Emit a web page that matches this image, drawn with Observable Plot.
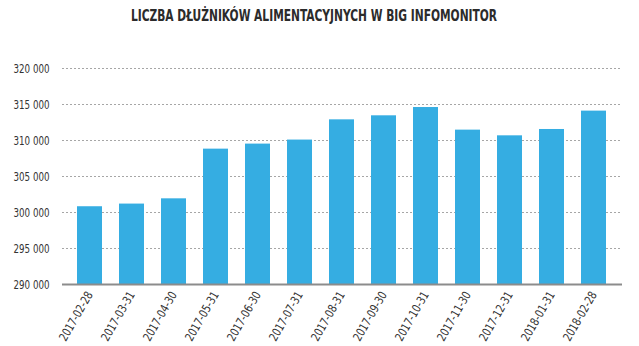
<!DOCTYPE html>
<html>
<head>
<meta charset="utf-8">
<script src="https://cdn.jsdelivr.net/npm/d3@7"></script>
<script src="https://cdn.jsdelivr.net/npm/@observablehq/plot@0.6"></script>
<style>
  html, body { margin: 0; padding: 0; background: #fff; }
  body { width: 639px; height: 346px; overflow: hidden; }
  #titlewrap { height: 34px; position: relative; }
  #title { position: absolute; left: 314px; top: 6px; transform: translateX(-50%) scaleX(0.79); white-space: nowrap;
    font-family: "DejaVu Sans Condensed", "DejaVu Sans", sans-serif; font-stretch: condensed;
    font-size: 15px; font-weight: bold; color: #2b2b2b; line-height: 20px; }
</style>
</head>
<body>
<div id="titlewrap"><div id="title">LICZBA DŁUŻNIKÓW ALIMENTACYJNYCH W BIG INFOMONITOR</div></div>
<div id="chart"></div>
<script>
const dates = ["2017-02-28","2017-03-31","2017-04-30","2017-05-31","2017-06-30","2017-07-31","2017-08-31","2017-09-30","2017-10-31","2017-11-30","2017-12-31","2018-01-31","2018-02-28"];
const values = [300800, 301170, 301900, 308800, 309500, 310060, 312870, 313430, 314580, 311440, 310650, 311530, 314080];
const yTicks = [290000, 295000, 300000, 305000, 310000, 315000, 320000];
const gridTicks = [295000, 300000, 305000, 310000, 315000, 320000];

const data = dates.map((d, i) => ({date: d, value: values[i]}));
const fmt = v => d3.format(",")(v).replace(/,/g, " ");

const chart = Plot.plot({
  width: 639,
  height: 312,
  marginTop: 34,
  marginBottom: 62,
  marginLeft: 57,
  marginRight: 13,
  style: {fontFamily: '"DejaVu Sans Condensed", "DejaVu Sans", sans-serif', fontSize: "12px", color: "#333", background: "transparent"},
  x: {domain: dates, padding: 0.4, label: null, tickSize: 0, tickPadding: 8, tickRotate: -60},
  y: {domain: [290000, 320000], ticks: yTicks, tickFormat: fmt, label: null, tickSize: 0, tickPadding: 8},
  marks: [
    Plot.ruleY(gridTicks, {stroke: "#a6a6a6", strokeDasharray: "2,2", strokeWidth: 1, insetLeft: 5, insetRight: 4}),
    Plot.barY(data, {x: "date", y1: 290000, y2: "value", fill: "#35ade2"}),
    Plot.ruleY([290000], {stroke: "#8c8c8c", strokeWidth: 2, insetLeft: 5, insetRight: 4})
  ]
});
document.getElementById("chart").appendChild(chart);

// compress tick label glyphs to mimic the condensed typeface of the original
d3.select(chart).selectAll("text").each(function() {
  const t = this.textContent;
  if (/^\d{3} \d{3}$/.test(t)) {
    this.setAttribute("font-size", "12.5");
    this.setAttribute("textLength", "36");
    this.setAttribute("lengthAdjust", "spacingAndGlyphs");
  } else if (/^\d{4}-\d{2}-\d{2}$/.test(t)) {
    this.setAttribute("font-size", "12");
    this.setAttribute("textLength", "55");
    this.setAttribute("lengthAdjust", "spacingAndGlyphs");
  }
});
</script>
</body>
</html>
